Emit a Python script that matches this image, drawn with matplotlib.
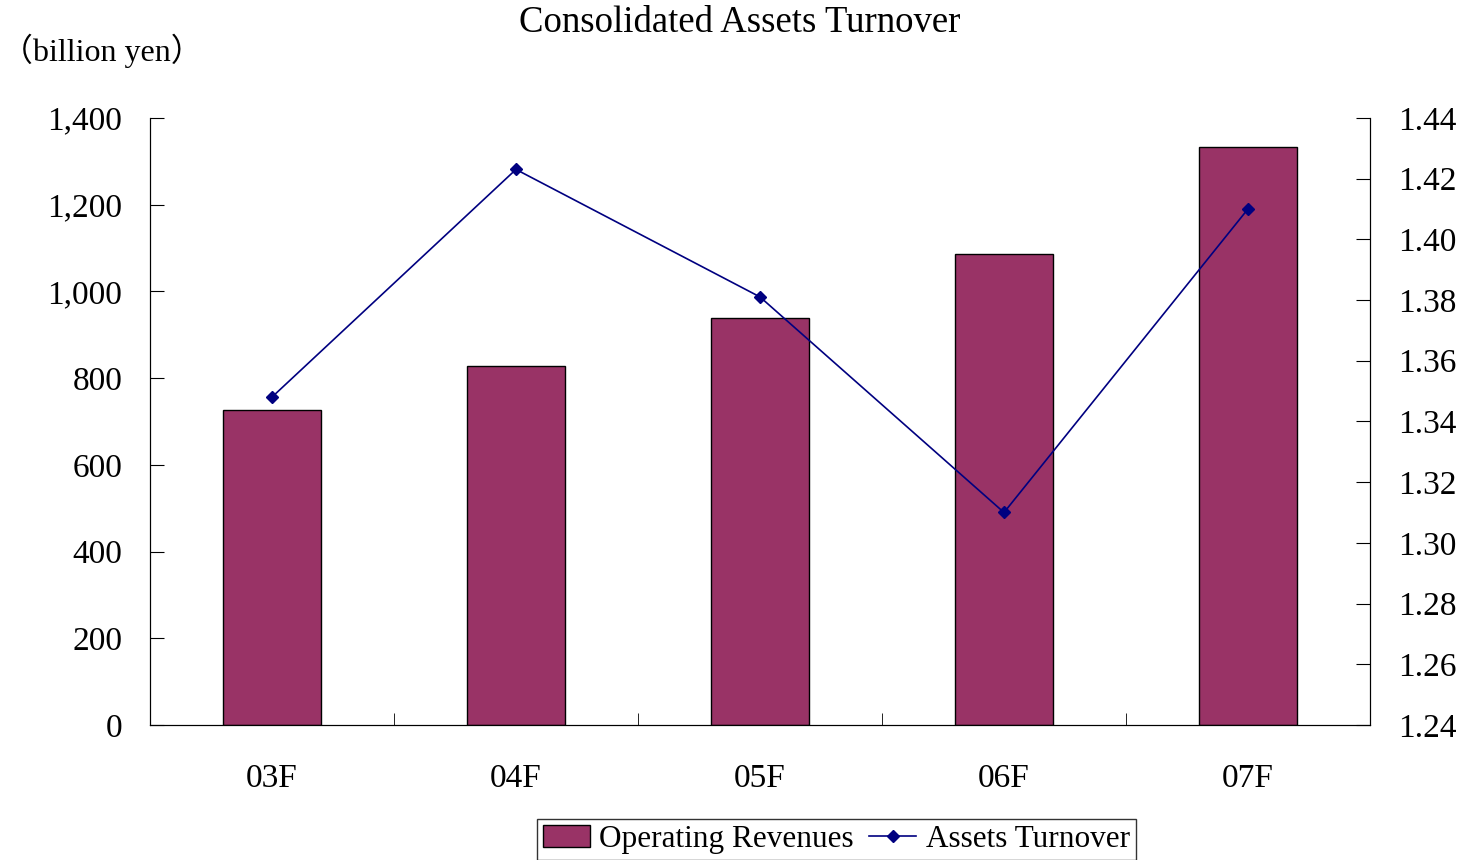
import matplotlib
matplotlib.use('Agg')
from matplotlib import pyplot as plt
import numpy as np

plt.rcParams['font.family'] = ['Liberation Serif', 'Noto Sans CJK JP', 'DejaVu Sans']

years = ['03F', '04F', '05F', '06F', '07F']
revenues = [726, 828, 939, 1086, 1332]
turnover = [1.348, 1.423, 1.381, 1.310, 1.410]

fig = plt.figure(figsize=(14.7, 8.6), dpi=100)
ax = fig.add_axes([0.102, 0.157, 0.830, 0.706])
x = np.arange(len(years))

bars = ax.bar(x, revenues, width=0.4, color='#993366', edgecolor='black', linewidth=1,
              label='Operating Revenues', zorder=2)
ax.set_xlim(-0.5, len(years) - 0.5)
ax.set_ylim(0, 1400)
ax.set_yticks(np.arange(0, 1401, 200))
ax.set_yticklabels(['{:,}'.format(v) for v in range(0, 1401, 200)])
ax.set_xticks(x)
ax.set_xticklabels(years)
ax.set_xticks(np.arange(-0.5, len(years), 1), minor=True)
ax.tick_params(axis='x', which='major', length=0, pad=28, labelsize=24)
ax.tick_params(axis='x', which='minor', direction='in', length=9)
ax.tick_params(axis='y', direction='in', length=10, pad=20, labelsize=24)
ax.spines['top'].set_visible(False)

ax2 = ax.twinx()
line, = ax2.plot(x, turnover, color='#000080', marker='D', markersize=6, linewidth=1.2,
                 label='Assets Turnover', zorder=3)
ax2.set_ylim(1.24, 1.44)
ax2.set_yticks(np.arange(1.24, 1.4401, 0.02))
ax2.set_yticklabels(['{:.2f}'.format(v) for v in np.arange(1.24, 1.4401, 0.02)])
ax2.tick_params(axis='y', direction='in', length=10, pad=20, labelsize=24)
ax2.spines['top'].set_visible(False)

fig.text(0.503, 0.973, 'Consolidated Assets Turnover', ha='center', va='center', fontsize=26.5)
fig.text(0.001, 0.941, '（billion yen）', ha='left', va='center', fontsize=23)

fig.legend([bars, line], ['Operating Revenues', 'Assets Turnover'], loc='center',
           bbox_to_anchor=(0.569, 0.024), ncol=2, fontsize=22.5, frameon=True, fancybox=False,
           edgecolor='black', handlelength=1.5, handletextpad=0.3, columnspacing=0.5,
           borderpad=0.2)

fig.savefig('out.png', dpi=100)
